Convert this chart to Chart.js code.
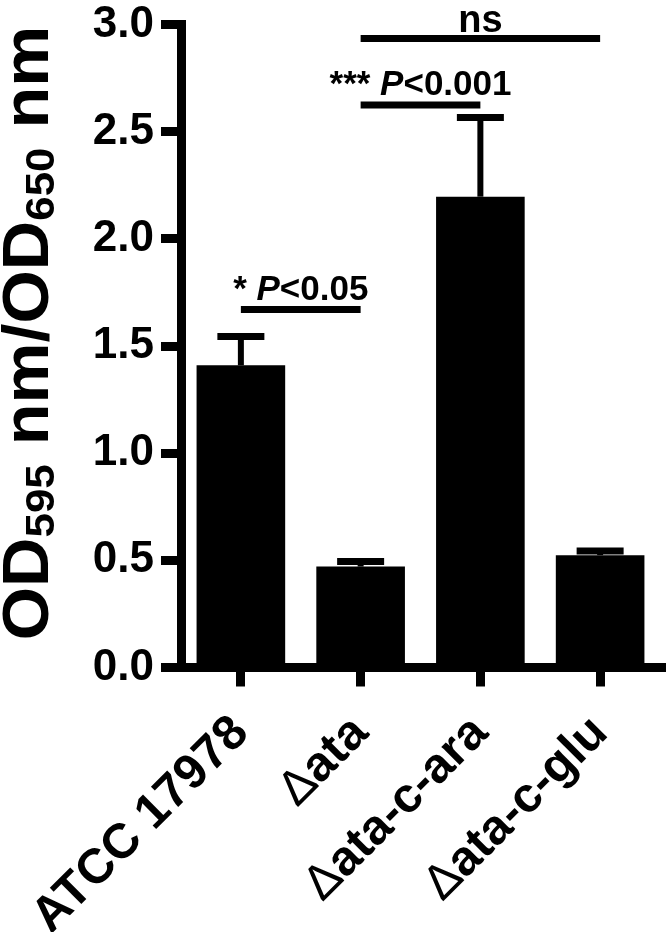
<!DOCTYPE html>
<html><head><meta charset="utf-8">
<script src="https://cdn.jsdelivr.net/npm/chart.js@4.4.0/dist/chart.umd.min.js"></script>
<style>html,body{margin:0;padding:0;background:#fff;}</style>
</head><body>
<canvas id="c" width="666" height="932"></canvas>
<script>
// ---- data ----
const categories = ['ATCC 17978', 'Δata', 'Δata-c-ara', 'Δata-c-glu'];
const meanValues = [1.41, 0.471, 2.197, 0.524];
const errorValues = [0.134, 0.024, 0.37, 0.02];
const yTickValues = [0, 0.5, 1.0, 1.5, 2.0, 2.5, 3.0];
const sigPairs = [[0, 1], [1, 2], [1, 3]];
const sigLevels = [1.67, 2.625, 2.935];
const sigStars = ['* ', '*** ', ''];
const sigTexts = ['P<0.05', 'P<0.001', 'ns'];

const FONT = '"Liberation Sans", Arial, Helvetica, sans-serif';
const XFS = 49;

const overlay = {
  id: 'overlay',
  afterDatasetsDraw(chart) {
    const ctx = chart.ctx, xs = chart.scales.x, ys = chart.scales.y;
    ctx.save();
    ctx.strokeStyle = '#000'; ctx.fillStyle = '#000';
    ctx.lineCap = 'butt';
    // error bars
    meanValues.forEach((v, i) => {
      const cx = xs.getPixelForValue(i);
      const y0 = ys.getPixelForValue(v), y1 = ys.getPixelForValue(v + errorValues[i]);
      ctx.lineWidth = 6;
      ctx.beginPath(); ctx.moveTo(cx, y0); ctx.lineTo(cx, y1); ctx.stroke();
      ctx.lineWidth = 7;
      ctx.beginPath(); ctx.moveTo(cx - 23.5, y1); ctx.lineTo(cx + 23.5, y1); ctx.stroke();
    });
    // significance lines
    sigPairs.forEach((p, k) => {
      const xa = xs.getPixelForValue(p[0]), xb = xs.getPixelForValue(p[1]);
      const yl = ys.getPixelForValue(sigLevels[k]);
      ctx.lineWidth = 7;
      ctx.beginPath(); ctx.moveTo(xa, yl); ctx.lineTo(xb, yl); ctx.stroke();
      const star = sigStars[k], txt = sigTexts[k];
      let parts, base;
      if (txt.startsWith('P')) {
        const fB = 'bold 35px ' + FONT, fI = 'italic bold 35px ' + FONT;
        parts = [[star, fB], ['P', fI], [txt.slice(1), fB]];
        base = yl - 10;
      } else {
        parts = [[txt, 'bold 38px ' + FONT]];
        base = yl - 6.5;
      }
      let w = 0;
      parts.forEach(pp => { ctx.font = pp[1]; w += ctx.measureText(pp[0]).width; });
      let x = (xa + xb) / 2 - w / 2;
      ctx.textBaseline = 'alphabetic'; ctx.textAlign = 'left';
      parts.forEach(pp => { ctx.font = pp[1]; ctx.fillText(pp[0], x, base); x += ctx.measureText(pp[0]).width; });
    });
    ctx.restore();
  },
  afterDraw(chart) {
    const ctx = chart.ctx, ca = chart.chartArea, xs = chart.scales.x;
    ctx.save();
    ctx.fillStyle = '#000';
    // x axis line continues to the right edge
    ctx.fillRect(ca.left - 4.5, ca.bottom - 4.5, chart.width - (ca.left - 4.5), 9);
    ctx.restore();

    // x tick labels: thin Δ, bold rest, at the positions Chart.js computed
    const items = xs.getLabelItems();
    items.forEach(it => {
      const o = it.options;
      const label = String(it.label);
      const parts = [];
      if (label.startsWith('Δ')) { parts.push(['Δ', XFS + 'px ' + FONT]); parts.push([label.slice(1), 'bold ' + XFS + 'px ' + FONT]); }
      else parts.push([label, 'bold ' + XFS + 'px ' + FONT]);
      ctx.save();
      ctx.fillStyle = '#000';
      ctx.translate(o.translation[0], o.translation[1]);
      ctx.rotate(o.rotation);
      ctx.textBaseline = o.textBaseline;
      ctx.textAlign = 'left';
      let w = 0;
      parts.forEach(p => { ctx.font = p[1]; w += ctx.measureText(p[0]).width; });
      let x = o.textAlign === 'right' ? -w : (o.textAlign === 'center' ? -w / 2 : 0);
      parts.forEach(p => { ctx.font = p[1]; ctx.fillText(p[0], x, it.textOffset || 0); x += ctx.measureText(p[0]).width; });
      ctx.restore();
    });

    // y axis title with subscripts
    ctx.save();
    ctx.fillStyle = '#000';
    const fs = 64, sub = 41;
    const parts = [['OD', fs, 0], ['595', sub, 0.1], [' nm/OD', fs, 0], ['650', sub, 0.1], [' nm', fs, 0]];
    let w = 0;
    parts.forEach(p => { ctx.font = 'bold ' + p[1] + 'px ' + FONT; w += ctx.measureText(p[0]).width; });
    ctx.translate(48, 333);
    ctx.rotate(-Math.PI / 2);
    ctx.scale(1.07, 1);
    let x = -w / 2;
    ctx.textBaseline = 'alphabetic'; ctx.textAlign = 'left';
    parts.forEach(p => {
      ctx.font = 'bold ' + p[1] + 'px ' + FONT;
      ctx.fillText(p[0], x, p[2] * fs);
      x += ctx.measureText(p[0]).width;
    });
    ctx.restore();
  }
};

new Chart(document.getElementById('c'), {
  type: 'bar',
  data: {
    labels: categories,
    datasets: [{ data: meanValues, backgroundColor: '#000', borderWidth: 0, barPercentage: 0.74, categoryPercentage: 1 }]
  },
  options: {
    responsive: false, animation: false, devicePixelRatio: 1,
    layout: { padding: { top: 19, right: 6, left: 0, bottom: 0 } },
    plugins: { legend: { display: false }, tooltip: { enabled: false } },
    scales: {
      x: {
        grid: { display: true, drawOnChartArea: false, drawTicks: true, tickLength: 19, tickWidth: 9, tickColor: '#000', offset: false },
        border: { display: true, width: 9, color: '#000' },
        ticks: { color: 'rgba(0,0,0,0)', font: { family: FONT, size: XFS, weight: 'bold' }, minRotation: 45, maxRotation: 45, padding: 18, autoSkip: false },
        afterFit(s) { s.height = 264.5; }
      },
      y: {
        min: 0, max: 3,
        afterBuildTicks(s) { s.ticks = yTickValues.map(v => ({ value: v })); },
        grid: { display: true, drawOnChartArea: false, drawTicks: true, tickLength: 20, tickWidth: 9, tickColor: '#000' },
        border: { display: true, width: 9, color: '#000' },
        ticks: { color: '#000', font: { family: FONT, size: 44, weight: 'bold', lineHeight: 0.8 }, padding: 7, callback: v => Number(v).toFixed(1) },
        afterFit(s) { s.width = 181; }
      }
    }
  },
  plugins: [overlay]
});
</script>
</body></html>
